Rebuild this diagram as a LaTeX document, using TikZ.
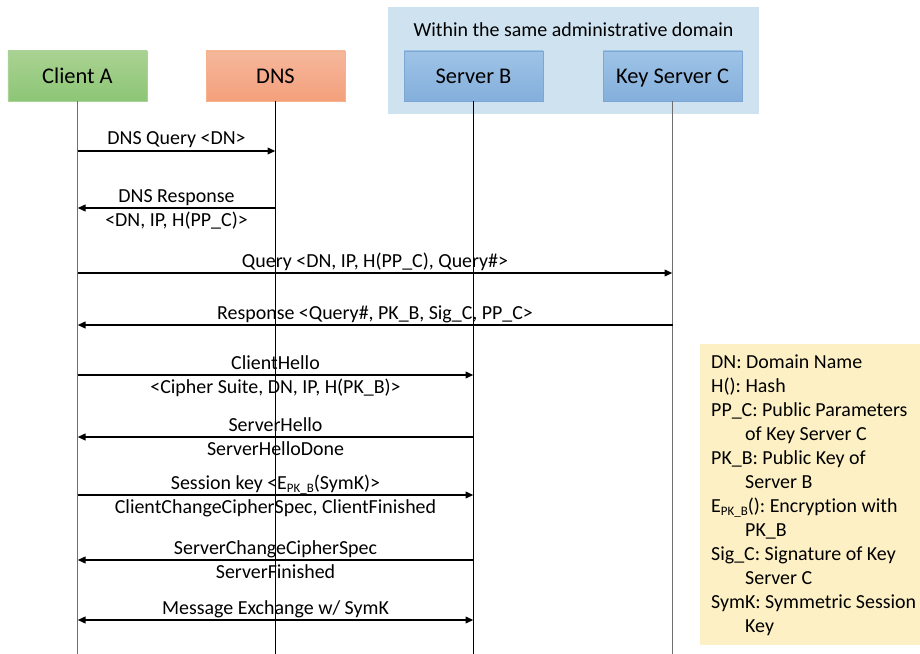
\documentclass[tikz,border=0pt]{standalone}
\usepackage{fontspec}
\setmainfont{Carlito}[Ligatures=NoCommon]
\usetikzlibrary{arrows.meta}
\definecolor{gAt}{RGB}{170,210,145}
\definecolor{gAb}{RGB}{140,198,118}
\definecolor{gAd}{RGB}{168,210,150}
\definecolor{oDt}{RGB}{245,183,155}
\definecolor{oDb}{RGB}{244,160,124}
\definecolor{oDd}{RGB}{245,178,140}
\definecolor{bSt}{RGB}{158,195,230}
\definecolor{bSb}{RGB}{132,175,220}
\definecolor{bSd}{RGB}{125,166,213}
\definecolor{domfill}{RGB}{207,226,240}
\definecolor{legfill}{RGB}{252,240,196}
\definecolor{lifegray}{RGB}{110,110,110}
\newcommand\mysub[1]{\raisebox{-3.5bp}{\fontsize{13}{13}\selectfont #1}}
\frenchspacing
\begin{document}
\frenchspacing
\begin{tikzpicture}[x=1bp,y=-1bp,
  actor/.style={draw, line width=0.8bp, minimum width=139bp, minimum height=50bp, text height=14.2bp, text depth=0pt, inner sep=0pt, font=\fontsize{22.5}{27}\selectfont},
  life/.style={line width=1bp},
  msg/.style={line width=2bp, -{Triangle[length=8bp,width=6.5bp]}},
  lblup/.style={anchor=base, yshift=6bp, inner sep=0pt, font=\fontsize{20}{24}\selectfont},
  lbldn/.style={anchor=base, yshift=-18.5bp, inner sep=0pt, font=\fontsize{20}{24}\selectfont},
  legtxt/.style={anchor=base west, inner sep=0pt, font=\fontsize{20}{24}\selectfont}]
\useasboundingbox (0,0) rectangle (920,654);
% domain group
\node[fill=domfill, minimum width=371bp, minimum height=107bp, inner sep=0pt] (dom) at (573.5,60.5) {};
\node[anchor=base, inner sep=0pt, font=\fontsize{20}{24}\selectfont] (domlbl) at (573.5,37) {Within the same administrative domain};
% actors
\node[actor, top color=gAt, bottom color=gAb, draw=gAd] (A) at (77.5,76) {Client A};
\node[actor, top color=oDt, bottom color=oDb, draw=oDd] (D) at (275.5,76) {DNS};
\node[actor, top color=bSt, bottom color=bSb, draw=bSd] (B) at (473.5,76) {Server B};
\node[actor, top color=bSt, bottom color=bSb, draw=bSd] (C) at (672.5,76) {Key Server C};
% lifelines
\draw[life, lifegray] (A.south) -- (A.south |- 0,654);
\draw[life] (D.south) -- (D.south |- 0,654);
\draw[life] (B.south) -- (B.south |- 0,654);
\draw[life, lifegray] (C.south) -- (C.south |- 0,654);
% messages
\draw[msg] (A.south |- 0,151) -- node[lblup]{DNS Query <DN>} (D.south |- 0,151);
\draw[msg] (D.south |- 0,208) -- node[lblup]{DNS Response} node[lbldn]{<DN, IP, H(PP\_C)>} (A.south |- 0,208);
\draw[msg] (A.south |- 0,273) -- node[lblup]{Query <DN, IP, H(PP\_C), Query\#>} (C.south |- 0,273);
\draw[msg] (C.south |- 0,325) -- node[lblup]{Response <Query\#, PK\_B, Sig\_C, PP\_C>} (A.south |- 0,325);
\draw[msg] (A.south |- 0,375) -- node[lblup]{ClientHello} node[lbldn]{<Cipher Suite, DN, IP, H(PK\_B)>} (B.south |- 0,375);
\draw[msg] (B.south |- 0,437) -- node[lblup]{ServerHello} node[lbldn]{ServerHelloDone} (A.south |- 0,437);
\draw[msg] (A.south |- 0,495) -- node[lblup]{Session key <E\mysub{PK\_B}(SymK)>} node[lbldn]{ClientChangeCipherSpec, ClientFinished} (B.south |- 0,495);
\draw[msg] (B.south |- 0,560) -- node[lblup]{ServerChangeCipherSpec} node[lbldn]{ServerFinished} (A.south |- 0,560);
\draw[msg, {Triangle[length=8bp,width=6.5bp]}-{Triangle[length=8bp,width=6.5bp]}] (A.south |- 0,620) -- node[lblup]{Message Exchange w/ SymK} (B.south |- 0,620);
% legend
\node[fill=legfill, minimum width=220bp, minimum height=301bp, inner sep=0pt] (leg) at (810,494.5) {};
\foreach \i/\xx/\t in {0/711/{DN: Domain Name},1/711/{H(): Hash},2/711/{PP\_C: Public Parameters},3/745/{of Key Server C},4/711/{PK\_B: Public Key of},5/745/{Server B},6/711/{E\mysub{PK\_B}(): Encryption with},7/745/{PK\_B},8/711/{Sig\_C: Signature of Key},9/745/{Server C},10/711/{SymK: Symmetric Session},11/745/{Key}}
  \node[legtxt] (leg\i) at (\xx,368+24*\i) {\t};
\end{tikzpicture}
\end{document}
